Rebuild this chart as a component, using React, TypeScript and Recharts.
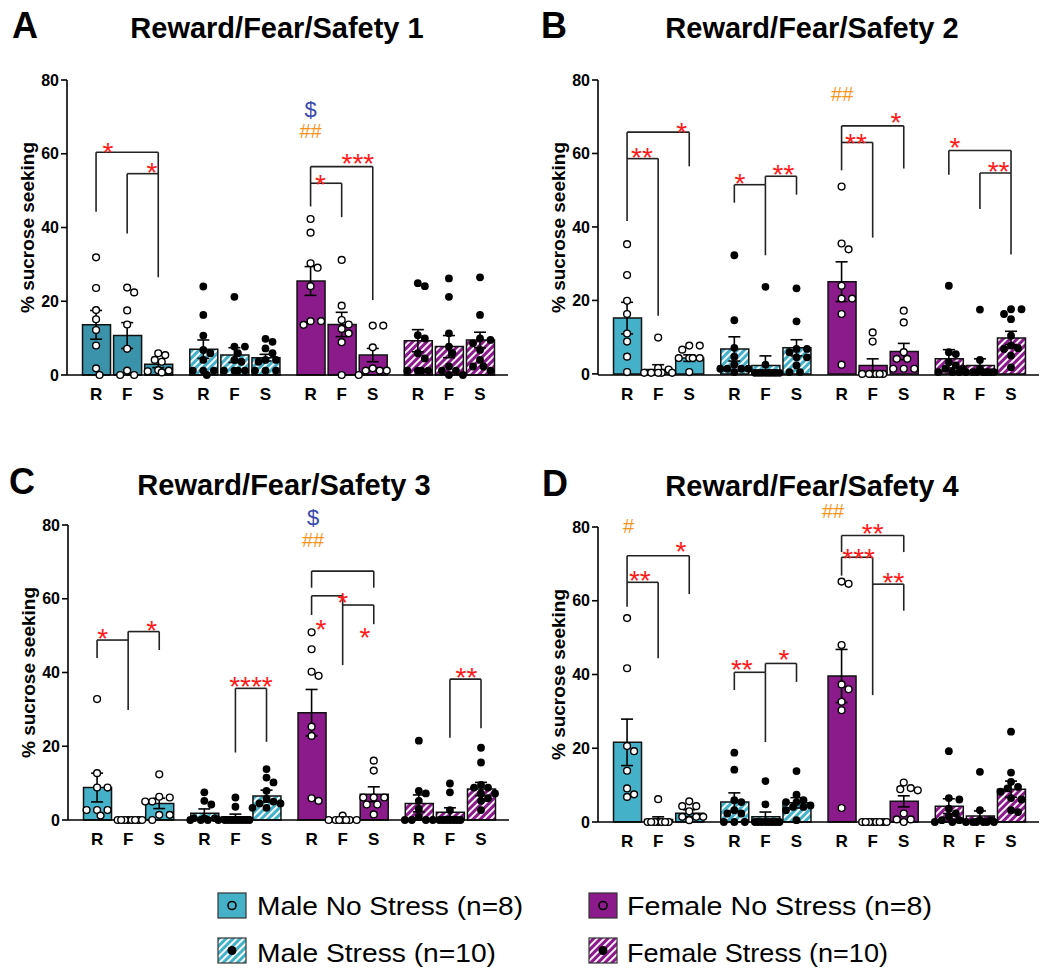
import React from 'react';
import {
  ComposedChart,
  Bar,
  Cell,
  Scatter,
  ErrorBar,
  XAxis,
  YAxis,
  ReferenceLine,
  ReferenceDot,
} from 'recharts';

// ---- data ----
const CONDITIONS = ['R', 'F', 'S'];
const GROUP_NAMES = ['Male No Stress (n=8)', 'Male Stress (n=10)', 'Female No Stress (n=8)', 'Female Stress (n=10)'];
const TITLES = ['Reward/Fear/Safety 1', 'Reward/Fear/Safety 2', 'Reward/Fear/Safety 3', 'Reward/Fear/Safety 4'];
const LETTERS = ['A', 'B', 'C', 'D'];
const Y_TICKS = [0, 20, 40, 60, 80];

// bar order: MNS R F S | MS R F S | FNS R F S | FS R F S
const meansA = [13.6, 10.7, 2.9, 7.0, 5.4, 4.7, 25.5, 13.7, 5.4, 9.3, 7.7, 9.5];
const semsA = [3.9, 3.5, 0.9, 2.5, 2.0, 0.9, 3.9, 3.3, 1.8, 3.0, 3.0, 2.1];
const pointsA = [
  [31.9, 23.6, 17.6, 15.1, 12.2, 8.0, 1.8, 0],
  [23.7, 22.4, 17.5, 13.7, 7.1, 1.2, 0, 0],
  [5.9, 5.4, 4.1, 3.6, 1.3, 1.2, 1.0, 0.7],
  [24.0, 16.3, 10.7, 6.8, 5.9, 4.1, 1.2, 1.2, 1.2, 0],
  [21.2, 7.7, 7.7, 5.9, 4.1, 3.6, 1.2, 1.2, 1.2, 1.2],
  [9.8, 9.0, 7.2, 5.9, 4.1, 4.1, 3.6, 1.2, 1.2, 1.2],
  [42.3, 38.6, 30.3, 29.1, 24.1, 14.6, 14.6, 13.6],
  [31.2, 18.8, 14.9, 13.7, 12.5, 11.3, 8.9, 0],
  [13.4, 13.4, 7.5, 1.8, 1.2, 1.2, 1.2, 0],
  [24.9, 24.1, 10.8, 9.9, 5.9, 4.5, 1.2, 1.2, 1.2, 1.2],
  [26.2, 21.2, 11.3, 7.7, 5.9, 2.3, 1.2, 1.2, 0, 0],
  [26.5, 16.3, 9.9, 9.5, 8.6, 6.8, 4.1, 2.3, 2.3, 1.2],
];

const meansB = [15.2, 1.2, 4.3, 6.8, 2.3, 7.1, 25.1, 2.3, 6.1, 4.1, 2.3, 9.8];
const semsB = [4.3, 1.3, 0.9, 3.3, 2.6, 2.2, 5.4, 1.8, 2.2, 2.5, 1.8, 1.8];
const pointsB = [
  [35.3, 26.9, 19.9, 16.3, 11.0, 8.8, 4.7, 0.5],
  [9.9, 1.6, 1.2, 0.3, 0.3, 0.3, 0.3, 0.3],
  [7.7, 7.7, 6.6, 4.3, 4.3, 4.3, 4.3, 0.5],
  [32.3, 14.6, 7.1, 4.7, 2.5, 1.4, 1.4, 1.4, 1.4, 0.5],
  [23.7, 2.5, 0.3, 0.3, 0.3, 0.3, 0.3, 0.3, 0.3, 0.3],
  [23.3, 14.3, 6.8, 6.8, 5.9, 4.5, 4.5, 2.3, 0.5, 0.5],
  [51.0, 35.5, 33.9, 24.0, 20.5, 20.5, 16.3, 2.5],
  [11.3, 8.8, 0, 0, 0, 0, 0, 0],
  [17.2, 14.0, 5.9, 4.1, 4.1, 1.4, 1.4, 1.4],
  [24.0, 5.9, 5.4, 3.2, 2.3, 1.4, 1.4, 0.5, 0.5, 0.5],
  [17.5, 3.8, 1.4, 0.5, 0.5, 0.5, 0.5, 0.5, 0.5, 0.5],
  [17.6, 17.6, 16.3, 14.9, 10.4, 7.7, 7.0, 6.8, 5.0, 1.8],
];

const meansC = [8.8, 0, 4.5, 1.8, 0.9, 6.5, 29.1, 0.15, 7.0, 4.5, 2.1, 8.4];
const semsC = [3.9, 0, 1.4, 1.2, 0.7, 1.6, 6.3, 0.15, 2.0, 2.3, 1.2, 1.8];
const pointsC = [
  [32.8, 12.7, 8.8, 8.8, 2.7, 2.7, 2.7, 1.2],
  [0, 0, 0, 0, 0, 0, 0, 0],
  [12.4, 6.3, 6.1, 5.0, 5.0, 1.4, 1.4, 0],
  [7.5, 5.2, 4.2, 0.5, 0.5, 0.5, 0, 0, 0, 0],
  [6.1, 3.6, 0, 0, 0, 0, 0, 0, 0, 0],
  [13.8, 11.5, 10.2, 7.9, 5.7, 5.0, 4.5, 4.5, 3.3, 3.3],
  [50.9, 46.3, 40.2, 39.1, 25.3, 22.8, 5.9, 5.2],
  [1.2, 0, 0, 0, 0, 0, 0, 0],
  [16.1, 13.4, 6.1, 6.1, 6.1, 4.2, 4.2, 1.5],
  [21.5, 7.9, 7.2, 5.2, 3.0, 0.9, 0, 0, 0, 0],
  [9.9, 7.5, 2.7, 0, 0, 0, 0, 0, 0, 0],
  [19.6, 15.6, 9.5, 8.8, 8.8, 7.2, 7.2, 5.9, 5.2, 2.7],
];

const meansD = [21.6, 0.7, 2.4, 5.4, 1.4, 5.2, 39.6, 0, 5.6, 4.3, 1.6, 8.9];
const semsD = [6.3, 0.7, 0.9, 2.5, 1.3, 1.4, 7.2, 0, 1.5, 2.0, 1.4, 2.2];
const pointsD = [
  [55.3, 41.7, 20.6, 19.2, 13.9, 9.1, 7.5, 6.8],
  [6.2, 0, 0, 0, 0, 0, 0, 0],
  [5.6, 4.3, 4.3, 2.9, 1.4, 1.4, 1.4, 0.5],
  [18.8, 14.2, 5.9, 5.4, 3.2, 2.3, 2.3, 0, 0, 0],
  [11.1, 4.8, 0, 0, 0, 0, 0, 0, 0, 0],
  [13.8, 7.4, 5.9, 5.4, 5.4, 4.5, 4.1, 4.1, 3.2, 0.5],
  [65.2, 64.6, 48.0, 37.3, 36.0, 32.6, 30.3, 3.8],
  [0, 0, 0, 0, 0, 0, 0, 0],
  [10.7, 9.2, 8.9, 8.6, 2.3, 0.7, 0.7, 0],
  [19.2, 6.5, 6.1, 3.6, 2.3, 1.4, 0.5, 0.5, 0, 0],
  [13.6, 3.2, 0.5, 0.5, 0, 0, 0, 0, 0, 0],
  [24.5, 13.4, 10.9, 9.5, 9.1, 8.2, 6.5, 6.1, 3.2, 2.7],
];

// significance brackets: a/b = bar index, y = top, ya/yb = leg ends, label at fractional bar index lx
const bracketsA = [
  { a: 0, b: 2, y: 60.4, ya: 44.3, yb: 26.5, text: '*', lx: 0.38, ly: 62.2 },
  { a: 1, b: 2, y: 54.6, ya: 38.4, yb: 54.6, text: '*', lx: 1.8, ly: 56.8 },
  { a: 6, b: 8, y: 56.5, ya: 45.7, yb: 20.3, text: '***', lx: 7.52, ly: 59.2 },
  { a: 6, b: 7, y: 52.0, ya: 52.0, yb: 42.8, text: '*', lx: 6.32, ly: 53.4 },
];
const bracketsB = [
  { a: 0, b: 2, y: 65.8, ya: 41.6, yb: 56.5, text: '*', lx: 1.76, ly: 67.4 },
  { a: 0, b: 1, y: 58.6, ya: 58.6, yb: 15.8, text: '**', lx: 0.48, ly: 60.6 },
  { a: 3, b: 4, y: 51.5, ya: 46.6, yb: 32.3, text: '*', lx: 3.18, ly: 53.6 },
  { a: 4, b: 5, y: 53.8, ya: 51.5, yb: 48.8, text: '**', lx: 4.58, ly: 56.0 },
  { a: 6, b: 8, y: 67.5, ya: 55.4, yb: 55.9, text: '*', lx: 7.75, ly: 70.1 },
  { a: 6, b: 7, y: 63.0, ya: 63.0, yb: 37.1, text: '**', lx: 6.46, ly: 64.6 },
  { a: 9, b: 11, y: 60.8, ya: 54.2, yb: 32.5, text: '*', lx: 9.2, ly: 63.4 },
  { a: 10, b: 11, y: 54.7, ya: 44.9, yb: 54.7, text: '**', lx: 10.6, ly: 56.8 },
];
const bracketsC = [
  { a: 0, b: 1, y: 48.8, ya: 43.9, yb: 29.8, text: '*', lx: 0.18, ly: 51.0 },
  { a: 1, b: 2, y: 51.1, ya: 48.8, yb: 46.1, text: '*', lx: 1.76, ly: 53.2 },
  { a: 4, b: 5, y: 35.7, ya: 18.3, yb: 21.2, text: '****', lx: 4.5, ly: 38.0 },
  { a: 6, b: 8, y: 67.5, ya: 63.0, yb: 63.0, text: '*', lx: 7.0, ly: 60.7 },
  { a: 6, b: 7, y: 60.8, ya: 55.6, yb: 42.0, text: '*', lx: 6.3, ly: 53.5 },
  { a: 7, b: 8, y: 58.3, ya: 58.3, yb: 53.1, text: '*', lx: 7.72, ly: 51.3 },
  { a: 10, b: 11, y: 38.2, ya: 22.3, yb: 24.9, text: '**', lx: 10.53, ly: 40.3 },
];
const bracketsD = [
  { a: 0, b: 2, y: 72.2, ya: 58.4, yb: 61.8, text: '*', lx: 1.73, ly: 75.1 },
  { a: 0, b: 1, y: 65.0, ya: 65.0, yb: 44.4, text: '**', lx: 0.41, ly: 67.3 },
  { a: 3, b: 4, y: 40.6, ya: 35.8, yb: 21.7, text: '**', lx: 3.24, ly: 43.2 },
  { a: 4, b: 5, y: 43.0, ya: 40.6, yb: 38.0, text: '*', lx: 4.6, ly: 45.7 },
  { a: 6, b: 8, y: 77.7, ya: 73.2, yb: 73.2, text: '**', lx: 7.0, ly: 80.0 },
  { a: 6, b: 7, y: 71.8, ya: 66.8, yb: 34.4, text: '***', lx: 6.55, ly: 73.1 },
  { a: 7, b: 8, y: 64.5, ya: 64.5, yb: 57.3, text: '**', lx: 7.67, ly: 66.6 },
];

// other annotations ($ = sex effect, # = stress effect)
const marksA = [
  { lx: 6.0, ly: 71.9, text: '$', kind: 'sex' },
  { lx: 6.0, ly: 66.3, text: '##', kind: 'stress' },
];
const marksB = [{ lx: 6.02, ly: 76.4, text: '##', kind: 'stress' }];
const marksC = [
  { lx: 6.05, ly: 82.0, text: '$', kind: 'sex' },
  { lx: 6.05, ly: 76.1, text: '##', kind: 'stress' },
];
const marksD = [
  { lx: 0.05, ly: 80.3, text: '#', kind: 'stress' },
  { lx: 5.81, ly: 84.5, text: '##', kind: 'stress' },
];

// ---- styling ----
const TEAL_DARK = '#3A93AA';
const TEAL = '#45B1C8';
const PURPLE = '#8B1A8B';
const STAR_RED = '#FF1A1A';
const ORANGE = '#F7941D';
const BLUE = '#3949AB';
const FONT = '"Liberation Sans", Arial, Helvetica, sans-serif';

const GROUP_STEP = 3.45;
const X_MIN = -0.935;
const X_MAX = 3 * GROUP_STEP + 2 + 0.9;
const PLOT_W = 441;
const PLOT_H = 295;
const XPX = PLOT_W / (X_MAX - X_MIN);
const YPX = PLOT_H / 80;

const pos = (i: number) => Math.floor(i / 3) * GROUP_STEP + (i % 3);
const TICK_POS = Array.from({ length: 12 }, (_, i) => pos(i));

function xOf(f: number) {
  const i = Math.floor(f);
  const t = f - i;
  if (i >= 11) return pos(11) + t;
  return pos(i) + t * (pos(i + 1) - pos(i));
}

// simple beeswarm so overlapping dots spread sideways
function swarm(vals: number[]): number[] {
  const placed: { dx: number; y: number }[] = [];
  const cands = [0, 3.5, -3.5, 7, -7, 10.5, -10.5, 14, -14];
  return vals.map((v) => {
    const y = v * YPX;
    let best = 0;
    let bestD = -1;
    for (const c of cands) {
      let md = Infinity;
      for (const p of placed) md = Math.min(md, Math.hypot(p.dx - c, p.y - y));
      if (md >= 7.2) {
        best = c;
        break;
      }
      if (md > bestD) {
        bestD = md;
        best = c;
      }
    }
    placed.push({ dx: best, y });
    return best / XPX;
  });
}

interface Bracket { a: number; b: number; y: number; ya: number; yb: number; text: string; lx: number; ly: number }
interface Mark { lx: number; ly: number; text: string; kind: string }
interface PanelSpec {
  key: string;
  left: number;
  top: number;
  teal: string;
  means: number[];
  sems: number[];
  points: number[][];
  brackets: Bracket[];
  marks: Mark[];
}

const PANELS: PanelSpec[] = [
  { key: 'A', left: 0, top: 0, teal: TEAL_DARK, means: meansA, sems: semsA, points: pointsA, brackets: bracketsA, marks: marksA },
  { key: 'B', left: 531, top: 0, teal: TEAL, means: meansB, sems: semsB, points: pointsB, brackets: bracketsB, marks: marksB },
  { key: 'C', left: 1, top: 445, teal: TEAL, means: meansC, sems: semsC, points: pointsC, brackets: bracketsC, marks: marksC },
  { key: 'D', left: 531, top: 447, teal: TEAL, means: meansD, sems: semsD, points: pointsD, brackets: bracketsD, marks: marksD },
];

const TITLE_POS = [
  { x: 277, y: 38, lx: 12, ly: 38 },
  { x: 812, y: 38, lx: 541, ly: 38 },
  { x: 284, y: 495, lx: 9, ly: 494 },
  { x: 812, y: 496, lx: 542, ly: 496 },
];

function barFill(i: number, teal: string) {
  const g = Math.floor(i / 3);
  if (g === 0) return teal;
  if (g === 1) return 'url(#hatch-teal)';
  if (g === 2) return PURPLE;
  return 'url(#hatch-purple)';
}

const textShape = (text: string, color: string, size: number, dy: number) => (p: any) => (
  <text
    x={p.cx}
    y={p.cy + dy}
    textAnchor="middle"
    fill={color}
    fontSize={size}
    fontFamily={FONT}
  >
    {text}
  </text>
);

function Panel({ p }: { p: PanelSpec }) {
  const bars = p.means.map((m, i) => ({ x: pos(i), mean: m, sem: p.sems[i] }));
  const open: { x: number; y: number }[] = [];
  const filled: { x: number; y: number }[] = [];
  p.points.forEach((vals, i) => {
    const offs = swarm(vals);
    const g = Math.floor(i / 3);
    vals.forEach((v, k) => (g % 2 === 0 ? open : filled).push({ x: pos(i) + offs[k], y: v }));
  });

  const segs: { x1: number; y1: number; x2: number; y2: number }[] = [];
  p.brackets.forEach((b) => {
    const xa = pos(b.a);
    const xb = pos(b.b);
    if (b.ya !== b.y) segs.push({ x1: xa, y1: b.ya, x2: xa, y2: b.y });
    segs.push({ x1: xa, y1: b.y, x2: xb, y2: b.y });
    if (b.yb !== b.y) segs.push({ x1: xb, y1: b.y, x2: xb, y2: b.yb });
  });

  return (
    <div style={{ position: 'absolute', left: p.left, top: p.top }}>
      <ComposedChart
        width={518}
        height={410}
        data={bars}
        margin={{ top: 80, right: 10, bottom: 0, left: 22 }}
      >
        <XAxis
          type="number"
          dataKey="x"
          domain={[X_MIN, X_MAX]}
          ticks={TICK_POS}
          interval={0}
          tickFormatter={(v: number) => {
            const i = TICK_POS.findIndex((t) => Math.abs(t - v) < 1e-6);
            return i >= 0 ? CONDITIONS[i % 3] : '';
          }}
          tickLine={false}
          tickMargin={7}
          axisLine={{ stroke: '#000', strokeWidth: 1.6 }}
          tick={{ fill: '#000', fontSize: 17, fontWeight: 700 }}
          height={35}
        />
        {/* separate hidden axis for the bars so their band width comes from bar spacing only */}
        <XAxis xAxisId="bars" type="number" dataKey="x" domain={[X_MIN, X_MAX]} ticks={TICK_POS} hide />
        <YAxis
          type="number"
          domain={[0, 80]}
          ticks={Y_TICKS}
          width={45}
          tickSize={6}
          axisLine={{ stroke: '#000', strokeWidth: 1.6 }}
          tickLine={{ stroke: '#000', strokeWidth: 1.6 }}
          tick={{ fill: '#000', fontSize: 16, fontWeight: 700 }}
          label={{
            value: '% sucrose seeking',
            angle: -90,
            position: 'insideLeft',
            offset: 5,
            style: { textAnchor: 'middle', fontSize: 19, fontWeight: 700, fill: '#000' },
          }}
        />
        <Bar xAxisId="bars" dataKey="mean" barSize={28} isAnimationActive={false}>
          {bars.map((_, i) => (
            <Cell key={i} fill={barFill(i, p.teal)} stroke="#111" strokeWidth={1.5} />
          ))}
        </Bar>
        <Scatter
          data={open}
          dataKey="y"
          isAnimationActive={false}
          shape={(s: any) => <circle cx={s.cx} cy={s.cy} r={3.4} fill="#fff" stroke="#000" strokeWidth={1.4} />}
        />
        <Scatter
          data={filled}
          dataKey="y"
          isAnimationActive={false}
          shape={(s: any) => <circle cx={s.cx} cy={s.cy} r={3.9} fill="#000" />}
        />
        <Scatter data={bars} dataKey="mean" isAnimationActive={false} shape={() => <g />}>
          <ErrorBar dataKey="sem" direction="y" width={6} stroke="#000" strokeWidth={1.6} />
        </Scatter>
        {segs.map((s, k) => (
          <ReferenceLine
            key={'s' + k}
            segment={[
              { x: s.x1, y: s.y1 },
              { x: s.x2, y: s.y2 },
            ]}
            stroke="#222"
            strokeWidth={1.6}
            ifOverflow="visible"
          />
        ))}
        {p.brackets.map((b, k) => (
          <ReferenceDot
            key={'b' + k}
            x={xOf(b.lx)}
            y={b.ly}
            r={0}
            ifOverflow="visible"
            shape={textShape(b.text, STAR_RED, 28, 16)}
          />
        ))}
        {p.marks.map((m, k) => (
          <ReferenceDot
            key={'m' + k}
            x={xOf(m.lx)}
            y={m.ly}
            r={0}
            ifOverflow="visible"
            shape={textShape(m.text, m.kind === 'sex' ? BLUE : ORANGE, m.kind === 'sex' ? 22 : 20, 7.5)}
          />
        ))}
      </ComposedChart>
    </div>
  );
}

const LEGEND_ROWS = [
  { x: 218, tx: 257, y: 893, base: 915, len: 266, g: 0 },
  { x: 589, tx: 627, y: 893, base: 915, len: 305, g: 2 },
  { x: 218, tx: 257, y: 938, base: 962, len: 239, g: 1 },
  { x: 589, tx: 627, y: 938, base: 962, len: 261, g: 3 },
];

export default function App() {
  return (
    <div
      style={{
        position: 'absolute',
        left: 0,
        top: 0,
        width: 1050,
        height: 976,
        background: '#fff',
        fontFamily: FONT,
        overflow: 'hidden',
      }}
    >
      {PANELS.map((p) => (
        <Panel key={p.key} p={p} />
      ))}
      <svg
        width={1050}
        height={976}
        style={{ position: 'absolute', left: 0, top: 0, pointerEvents: 'none' }}
      >
        <defs>
          <pattern id="hatch-teal" patternUnits="userSpaceOnUse" width={5} height={5} patternTransform="rotate(45)">
            <rect width={5} height={5} fill={TEAL} />
            <rect width={1.9} height={5} fill="#fff" />
          </pattern>
          <pattern id="hatch-purple" patternUnits="userSpaceOnUse" width={5} height={5} patternTransform="rotate(45)">
            <rect width={5} height={5} fill={PURPLE} />
            <rect width={1.9} height={5} fill="#fff" />
          </pattern>
        </defs>
        {TITLES.map((t, k) => (
          <g key={t}>
            <text x={TITLE_POS[k].lx} y={TITLE_POS[k].ly} fontSize={36} fontWeight={700} fill="#000">
              {LETTERS[k]}
            </text>
            <text x={TITLE_POS[k].x} y={TITLE_POS[k].y} fontSize={29} fontWeight={700} fill="#000" textAnchor="middle">
              {t}
            </text>
          </g>
        ))}
        {LEGEND_ROWS.map((r) => {
          const fill = r.g === 0 ? TEAL : r.g === 1 ? 'url(#hatch-teal)' : r.g === 2 ? PURPLE : 'url(#hatch-purple)';
          const stress = r.g % 2 === 1;
          return (
            <g key={r.g}>
              <rect x={r.x} y={r.y} width={28} height={25} fill={fill} stroke="#333" strokeWidth={1.2} />
              {stress ? (
                <circle cx={r.x + 14} cy={r.y + 12.5} r={4.5} fill="#000" />
              ) : (
                <circle cx={r.x + 14} cy={r.y + 12.5} r={4} fill="none" stroke="#000" strokeWidth={1.6} />
              )}
              <text
                x={r.tx}
                y={r.base}
                fontSize={26}
                fill="#000"
                textLength={r.len}
                lengthAdjust="spacingAndGlyphs"
              >
                {GROUP_NAMES[r.g]}
              </text>
            </g>
          );
        })}
      </svg>
    </div>
  );
}
